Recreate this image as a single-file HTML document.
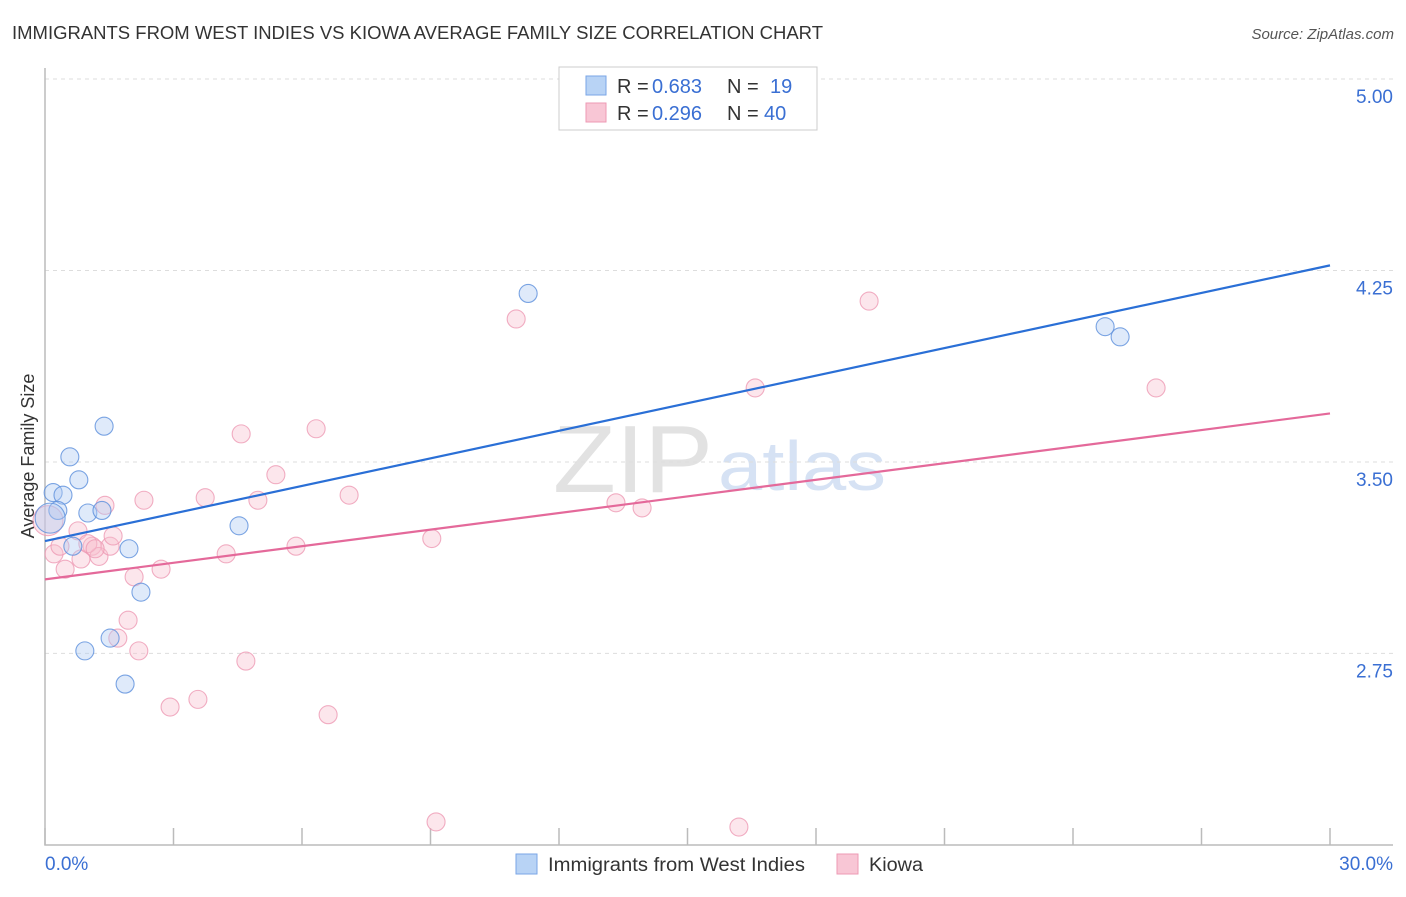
<!DOCTYPE html>
<html><head><meta charset="utf-8"><style>
body{margin:0;background:#fff;font-family:"Liberation Sans",sans-serif;}
svg text{font-family:"Liberation Sans",sans-serif;}
</style></head><body>
<svg id="c" width="1406" height="892">
<text x="12" y="39" font-size="18" fill="#333" textLength="811" lengthAdjust="spacingAndGlyphs">IMMIGRANTS FROM WEST INDIES VS KIOWA AVERAGE FAMILY SIZE CORRELATION CHART</text>
<text x="1394" y="39" font-size="15" fill="#555" font-style="italic" text-anchor="end">Source: ZipAtlas.com</text>
<text transform="translate(34,456) rotate(-90)" font-size="18" fill="#333" text-anchor="middle">Average Family Size</text>
<text x="553" y="492" font-size="96" fill="#e2e2e2" font-family="Liberation Serif" textLength="160" lengthAdjust="spacingAndGlyphs">ZIP</text>
<text x="718" y="490" font-size="70" fill="#d6e2f4" textLength="168" lengthAdjust="spacingAndGlyphs">atlas</text>
<g id="grid"></g>
<g id="marks"></g>
<g>
<rect x="559" y="67" width="258" height="63" fill="#fff" stroke="#ccc"/>
<rect x="586" y="76" width="20" height="19" fill="#b8d3f5" stroke="#7aa6e6"/>
<rect x="586" y="103" width="20" height="19" fill="#f8c6d5" stroke="#ee9ab4"/>
<text x="617" y="93" font-size="20" fill="#333">R =</text>
<text x="652" y="93" font-size="20" fill="#3a6fd3">0.683</text>
<text x="727" y="93" font-size="20" fill="#333">N =</text>
<text x="770" y="93" font-size="20" fill="#3a6fd3">19</text>
<text x="617" y="120" font-size="20" fill="#333">R =</text>
<text x="652" y="120" font-size="20" fill="#3a6fd3">0.296</text>
<text x="727" y="120" font-size="20" fill="#333">N =</text>
<text x="764" y="120" font-size="20" fill="#3a6fd3">40</text>
</g>
<g>
<rect x="516" y="854" width="21" height="20" fill="#b8d3f5" stroke="#7aa6e6"/>
<text x="548" y="871" font-size="19" fill="#333" textLength="257" lengthAdjust="spacingAndGlyphs">Immigrants from West Indies</text>
<rect x="837" y="854" width="21" height="20" fill="#f8c6d5" stroke="#ee9ab4"/>
<text x="869" y="871" font-size="19" fill="#333" textLength="54" lengthAdjust="spacingAndGlyphs">Kiowa</text>
</g>
<text x="45" y="870" font-size="19" fill="#3a6fd3">0.0%</text>
<text x="1393" y="870" font-size="19" fill="#3a6fd3" text-anchor="end">30.0%</text>
</svg>
<script>
const yTicks=[5.00,4.25,3.50,2.75];
const yTickLabels=["5.00","4.25","3.50","2.75"];
const blueX=[0.19,0.42,0.30,0.58,0.79,1.00,1.33,1.38,0.65,1.96,2.24,1.52,0.93,1.87,4.53,11.28,24.75,25.10,0.12];
const blueY=[3.38,3.37,3.31,3.52,3.43,3.30,3.31,3.64,3.17,3.16,2.99,2.81,2.76,2.63,3.25,4.16,4.03,3.99,3.28];
const pinkX=[0.07,0.21,0.47,0.35,0.77,0.84,1.10,1.26,1.00,1.52,1.59,1.40,2.08,1.94,1.70,2.19,2.31,2.71,2.92,3.57,3.74,4.23,4.58,4.69,4.97,5.39,5.86,6.33,6.61,7.10,9.03,9.13,11.00,13.33,13.94,16.20,16.58,19.24,25.94,1.17];
const pinkY=[3.27,3.14,3.08,3.17,3.23,3.12,3.17,3.13,3.18,3.17,3.21,3.33,3.05,2.88,2.81,2.76,3.35,3.08,2.54,2.57,3.36,3.14,3.61,2.72,3.35,3.45,3.17,3.63,2.51,3.37,3.20,2.09,4.06,3.34,3.32,2.07,3.79,4.13,3.79,3.16];
const blueLine=[3.19,4.27];
const pinkLine=[3.04,3.69];
const xs=v=>45+v/30*1285;
const ys=v=>79+(5-v)*255.3;
const NS="http://www.w3.org/2000/svg";
const grid=document.getElementById('grid'),marks=document.getElementById('marks');
function mk(p,tag,a){const e=document.createElementNS(NS,tag);for(const k in a)e.setAttribute(k,a[k]);p.appendChild(e);return e;}
yTicks.forEach((t,i)=>{
 const l=mk(grid,'line',{x1:45,x2:1393,y1:ys(t),y2:ys(t),stroke:'#ddd','stroke-dasharray':'4,4'});
 
 
 const tx=mk(grid,'text',{x:1393,y:ys(t)+24,'font-size':19,fill:'#3a6fd3','text-anchor':'end'});
 tx.textContent=yTickLabels[i];
 
 
});
const ax=mk(grid,'path',{d:'M45,68V845H1393',fill:'none',stroke:'#bbb','stroke-width':1.5});


for(let i=0;i<=10;i++){const t=mk(grid,'line',{x1:xs(i*3),x2:xs(i*3),y1:828,y2:845,stroke:'#bbb','stroke-width':1.5});
 
 }
function pts(X,Y,fill,stroke,name){X.forEach((x,i)=>{
 const big=(i===X.length-1&&name==='blue-point')||(i===0&&name==='pink-point');
 const c=mk(marks,'circle',{cx:xs(x),cy:ys(Y[i]),r:big?15:9,fill:fill,'fill-opacity':0.4,stroke:stroke,'stroke-opacity':0.8,'stroke-width':1.1});
 
 });}
pts(pinkX,pinkY,'#f8c0d0','#ee9ab4','pink-point');
pts(blueX,blueY,'#aecbf2','#5b8fdc','blue-point');
const bl=mk(marks,'line',{x1:xs(0),x2:xs(30),y1:ys(blueLine[0]),y2:ys(blueLine[1]),stroke:'#2a6fd6','stroke-width':2.2});


const pl=mk(marks,'line',{x1:xs(0),x2:xs(30),y1:ys(pinkLine[0]),y2:ys(pinkLine[1]),stroke:'#e4699a','stroke-width':2.2});


</script>
</body></html>
